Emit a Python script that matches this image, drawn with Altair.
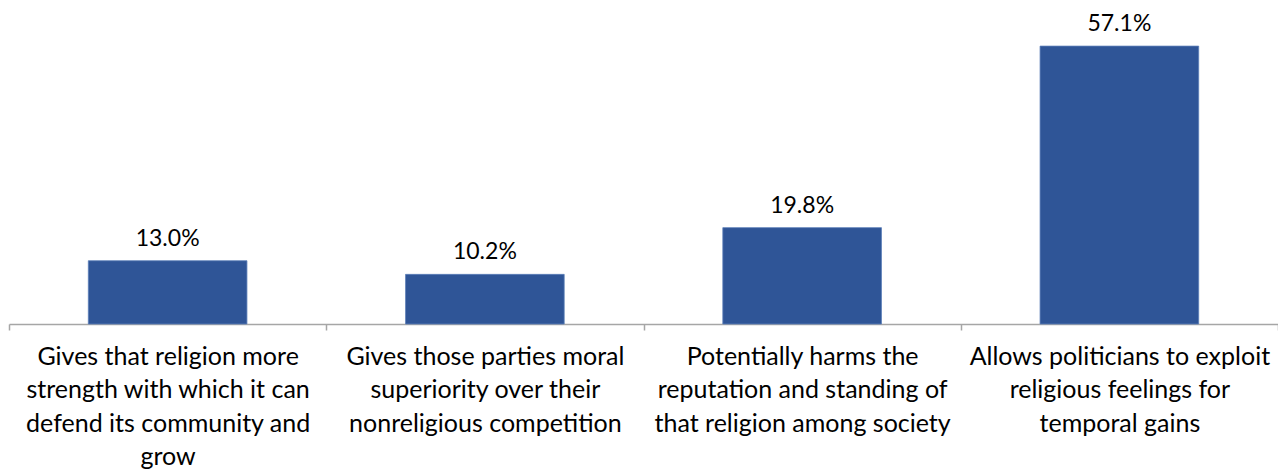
import altair as alt
import pandas as pd

categories = [
    "Gives that religion more\nstrength with which it can\ndefend its community and\ngrow",
    "Gives those parties moral\nsuperiority over their\nnonreligious competition",
    "Potentially harms the\nreputation and standing of\nthat religion among society",
    "Allows politicians to exploit\nreligious feelings for\ntemporal gains",
]
values = [13.0, 10.2, 19.8, 57.1]
labels = ["13.0%", "10.2%", "19.8%", "57.1%"]

df = pd.DataFrame({"cat": categories, "val": values, "lab": labels})

FONT = "Lato"

x = alt.X(
    "cat:N",
    sort=categories,
    title=None,
    scale=alt.Scale(paddingInner=0, paddingOuter=0),
    axis=alt.Axis(
        labelExpr="split(datum.label, '\\n')",
        labelAngle=0,
        labelFont=FONT,
        labelFontSize=25,
        labelColor="#000000",
        labelLineHeight=33.5,
        labelPadding=14,
        labelLimit=400,
        ticks=True,
        tickBand="extent",
        tickSize=6,
        tickColor="#A6A6A6",
        tickWidth=1.5,
        domainColor="#A6A6A6",
        domainWidth=1.5,
        grid=False,
    ),
)
y = alt.Y("val:Q", scale=alt.Scale(domain=[0, 60]), axis=None)

bars = alt.Chart(df).mark_bar(
    color="#2F5597", stroke="#5B7DB8", strokeWidth=0.8,
    width=alt.RelativeBandSize(0.5),
).encode(x=x, y=y)
text = alt.Chart(df).mark_text(
    font=FONT, fontSize=23, color="#000000", dy=-15, baseline="alphabetic"
).encode(x=alt.X("cat:N", sort=categories), y="val:Q", text="lab:N")

chart = (
    alt.layer(bars, text)
    .properties(
        width=1269,
        height=292,
        autosize=alt.AutoSizeParams(type="none"),
        padding={"left": 1, "top": 24, "right": 0, "bottom": 145},
    )
    .configure_view(stroke=None)
)

chart.save("out.html", embed_options={"renderer": "svg", "actions": False})
